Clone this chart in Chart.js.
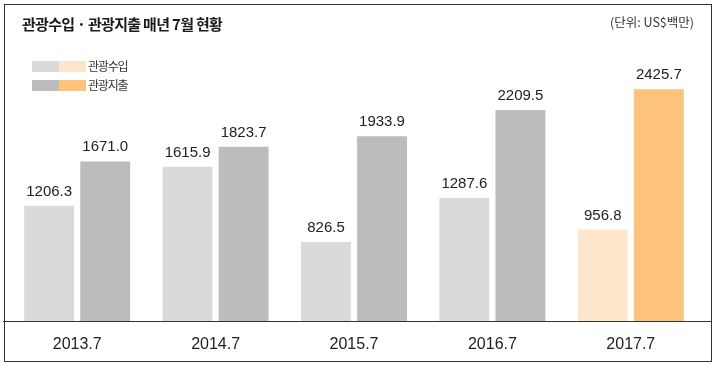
<!DOCTYPE html>
<html>
<head>
<meta charset="utf-8">
<script src="https://cdn.jsdelivr.net/npm/chart.js@4/dist/chart.umd.min.js"></script>
<style>
  html, body { margin: 0; padding: 0; background: #fff; }
  #wrap { position: relative; width: 717px; height: 365px; overflow: hidden; }
  canvas { position: absolute; left: 0; top: 0; }
  .txt { position: absolute; font-family: "Noto Sans CJK KR", sans-serif; color: #222; white-space: nowrap; line-height: 1; }
  #title { left: 22px; top: 16px; font-size: 15px; font-weight: bold; letter-spacing: -0.7px; color: #1a1a1a; }
  #unit { left: 610px; top: 16px; font-size: 12.5px; letter-spacing: 0px; color: #333; }
  .sw { position: absolute; width: 27px; height: 11px; }
  .lg { position: absolute; left: 88px; font-size: 12px; letter-spacing: -1.2px; color: #333; }
</style>
</head>
<body>
<div id="wrap">
  <canvas id="c" width="717" height="365"></canvas>
  <div class="txt" id="title">관광수입 · 관광지출 매년 7월 현황</div>
  <div class="txt" id="unit">(단위: US$백만)</div>
  <div class="sw" style="left:32px;top:61px;background:#d9dadc"></div>
  <div class="sw" style="left:59px;top:61px;background:#fee6cc"></div>
  <div class="txt lg" style="top:60px">관광수입</div>
  <div class="sw" style="left:32px;top:80px;background:#bbbcbe"></div>
  <div class="sw" style="left:59px;top:80px;background:#fdc27c"></div>
  <div class="txt lg" style="top:79px">관광지출</div>
</div>
<script>
const categories = ["2013.7", "2014.7", "2015.7", "2016.7", "2017.7"];
const seriesNames = ["관광수입", "관광지출"];
const incomeValues = [1206.3, 1615.9, 826.5, 1287.6, 956.8];
const expenseValues = [1671.0, 1823.7, 1933.9, 2209.5, 2425.7];

const incomeColors = ["#d9dadc", "#d9dadc", "#d9dadc", "#d9dadc", "#fee6cc"];
const expenseColors = ["#bbbcbe", "#bbbcbe", "#bbbcbe", "#bbbcbe", "#fdc27c"];

const decor = {
  id: "decor",
  afterDatasetsDraw(chart) {
    const ctx = chart.ctx;
    ctx.save();
    ctx.font = '15px "Liberation Sans", Arial, sans-serif';
    ctx.fillStyle = "#222";
    ctx.textAlign = "center";
    ctx.textBaseline = "alphabetic";
    chart.data.datasets.forEach((ds, i) => {
      const meta = chart.getDatasetMeta(i);
      meta.data.forEach((bar, j) => {
        ctx.fillText(ds.data[j].toFixed(1), bar.x, bar.y - 10);
      });
    });
    // axis line
    ctx.strokeStyle = "#333";
    ctx.lineWidth = 1;
    ctx.beginPath();
    ctx.moveTo(3, 321.5);
    ctx.lineTo(711, 321.5);
    ctx.stroke();
    // frame
    ctx.strokeStyle = "#333";
    ctx.strokeRect(4.5, 4.5, 707, 357);
    ctx.restore();
  }
};

new Chart(document.getElementById("c"), {
  type: "bar",
  data: {
    labels: categories,
    datasets: [
      { label: seriesNames[0], data: incomeValues, backgroundColor: incomeColors },
      { label: seriesNames[1], data: expenseValues, backgroundColor: expenseColors }
    ]
  },
  options: {
    responsive: false,
    animation: false,
    events: [],
    layout: { padding: { top: 44, left: 8, right: 17, bottom: 0 } },
    datasets: { bar: { categoryPercentage: 0.81, barPercentage: 0.89 } },
    plugins: { legend: { display: false }, tooltip: { enabled: false }, title: { display: false } },
    scales: {
      y: { display: false, min: 0, max: 2900 },
      x: {
        grid: { display: false, drawTicks: false },
        border: { display: false },
        ticks: { color: "#222", font: { family: '"Liberation Sans", Arial, sans-serif', size: 16 }, padding: 14, maxRotation: 0 },
        afterFit(scale) { scale.height = 44; }
      }
    }
  },
  plugins: [decor]
});
</script>
</body>
</html>
